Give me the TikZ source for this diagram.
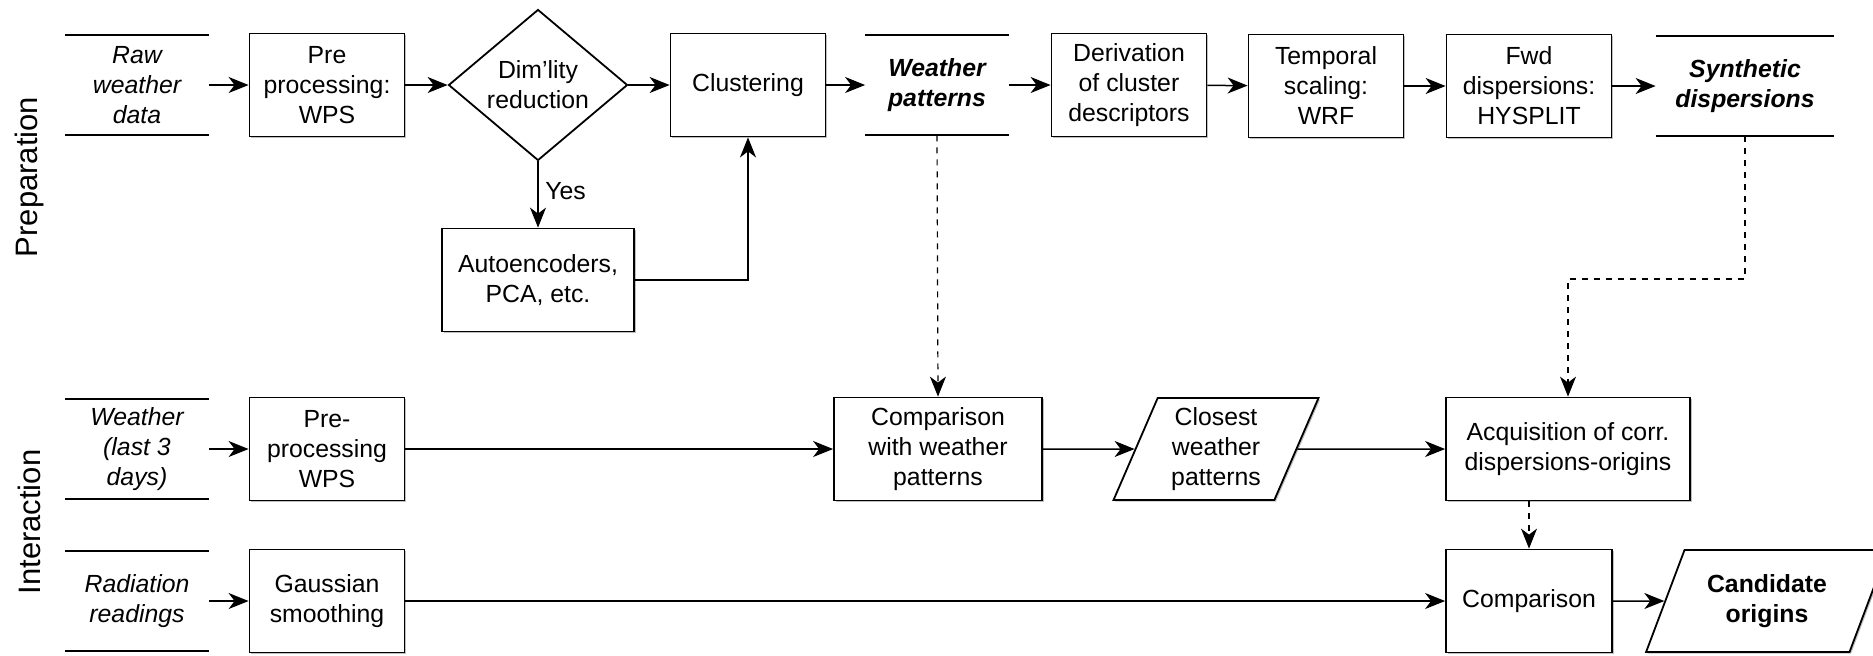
\documentclass[tikz,border=0pt]{standalone}
\usepackage{fontspec}
\setmainfont{Liberation Sans}
\usetikzlibrary{shapes.geometric, arrows.meta, shadows, calc}

\begin{document}
\begin{tikzpicture}[x=0.5pt, y=-0.5pt,
  font=\fontsize{12.4}{15}\selectfont,
  box/.style={draw, line width=0.9pt, fill=white, align=center, inner sep=2pt,
    minimum width=77.5pt, minimum height=51.5pt,
    drop shadow={shadow xshift=0.8pt, shadow yshift=-0.8pt, opacity=0.5}},
  datanode/.style={align=center, inner sep=2pt, minimum width=71.5pt, minimum height=50pt,
    font=\fontsize{12.4}{15}\selectfont\itshape},
  keydata/.style={datanode, font=\fontsize{12.4}{15}\selectfont\bfseries\itshape},
  decision/.style={diamond, draw, line width=0.9pt, fill=white, align=center, aspect=1.2,
    inner sep=0pt, minimum width=89.5pt, minimum height=75.5pt},
  slanted/.style={trapezium, draw, line width=0.9pt, fill=white, align=center,
    trapezium stretches=true, minimum height=51pt,
    drop shadow={shadow xshift=0.8pt, shadow yshift=-0.8pt, opacity=0.5}},
  arr/.style={line width=0.75pt, -{Stealth[length=10pt, width=8pt, inset=3pt]}},
  darr/.style={arr, dashed, line width=0.6pt},
  lane/.style={rotate=90, font=\fontsize{15.5}{18}\selectfont}
]
  \useasboundingbox (0,0) rectangle (1873,655);

  % Lane labels
  \node[lane] (prep) at (29,177) {Preparation};
  \node[lane] (inter) at (29,522) {Interaction};

  % --- PREPARATION ---
  \node[datanode] (raw) at (137,85) {Raw\\weather\\data};
  \node[box] (pre) at (327,85) {Pre\\processing:\\WPS};
  \node[decision] (dim) at (538,85) {Dim'lity\\reduction};
  \node[box] (clus) at (748,85) {Clustering};
  \node[keydata] (wp) at (937,85) {Weather\\patterns};
  \node[box] (deriv) at (1129,85) {Derivation\\of cluster\\descriptors};
  \node[box] (temp) at (1326,86) {Temporal\\scaling:\\WRF};
  \node[box, minimum width=82.5pt] (fwd) at (1529,86) {Fwd\\dispersions:\\HYSPLIT};
  \node[keydata, minimum width=89pt] (synth) at (1745,86) {Synthetic\\dispersions};
  \node[box, minimum width=96pt] (auto) at (538,280) {Autoencoders,\\PCA, etc.};

  \draw[arr] (raw) -- (pre);
  \draw[arr] (pre) -- (dim);
  \draw[arr] (dim) -- (clus);
  \draw[arr] (clus) -- (wp);
  \draw[arr] (wp) -- (deriv);
  \draw[arr] (deriv) -- (temp);
  \draw[arr] (temp) -- (fwd);
  \draw[arr] (fwd) -- (synth);
  \draw[arr] (dim) -- node[right, pos=0.45] {Yes} (auto);
  \draw[arr] (auto.east) -| (clus.south);

  % --- INTERACTION ---
  \node[datanode] (wlast) at (137,449) {Weather\\(last 3\\days)};
  \node[box] (pre2) at (327,449) {Pre-\\processing\\WPS};
  \node[box, minimum width=104pt] (cmpwp) at (938,449) {Comparison\\with weather\\patterns};
  \node[slanted, minimum width=103pt, trapezium left angle=68, trapezium right angle=112]
    (closest) at (1216,449) {Closest\\weather\\patterns};
  \node[box, minimum width=122pt] (acq) at (1568,449) {Acquisition of corr.\\dispersions-origins};

  \node[datanode] (rad) at (137,601) {Radiation\\readings};
  \node[box] (gauss) at (327,601) {Gaussian\\smoothing};
  \node[box, minimum width=83pt] (cmp) at (1529,601) {Comparison};
  \node[slanted, minimum width=121.5pt, trapezium left angle=65, trapezium right angle=115,
    font=\fontsize{12.4}{15}\selectfont\bfseries] (cand) at (1767,601) {Candidate\\origins};

  \coordinate (synthbend) at (1745,279);

  \draw[arr] (wlast) -- (pre2);
  \draw[arr] (pre2) -- (cmpwp);
  \draw[arr] (cmpwp) -- (closest);
  \draw[arr] (closest) -- (acq);
  \draw[arr] (rad) -- (gauss);
  \draw[arr] (gauss) -- (cmp);
  \draw[arr] (cmp) -- (cand);
  \draw[darr] (wp.south) -- (cmpwp.north);
  \draw[darr] (synth.south) -- (synthbend) -| (acq.north);
  \draw[darr] (acq.south -| cmp.north) -- (cmp.north);

  % data stores: top and bottom rules only
  \foreach \n in {raw, wp, synth, wlast, rad}
    \draw[line width=1pt] (\n.north west) -- (\n.north east) (\n.south west) -- (\n.south east);
\end{tikzpicture}
\end{document}
